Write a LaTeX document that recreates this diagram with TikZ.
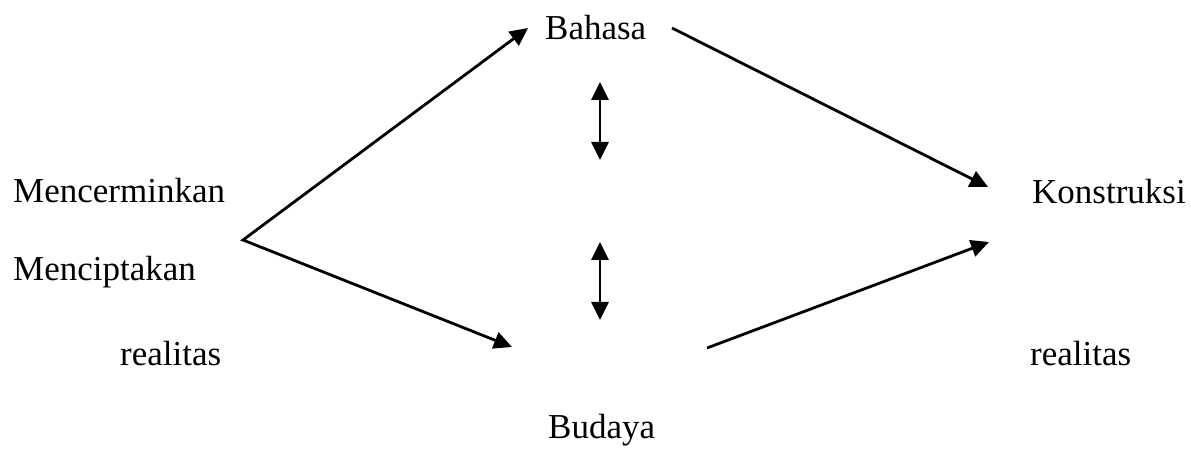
\documentclass[tikz,border=0pt]{standalone}
\usepackage{fontspec}
\setmainfont{Liberation Serif}
\usetikzlibrary{arrows.meta}
\begin{document}
\begin{tikzpicture}[x=1pt,y=-1pt,
  label/.style={inner sep=0pt,anchor=base west,font=\fontsize{35}{42}\selectfont},
  tip/.tip={Triangle[length=18pt,width=17pt]},
  link/.style={line width=2.8pt,-tip},
  both/.style={line width=2.8pt,tip-tip}]
\useasboundingbox (0,0) rectangle (1191,454);
% words
\node[label] (bahasa) at (545,40) {Bahasa};
\node[label] (cermin) at (13,203) {Mencerminkan};
\node[label] (cipta) at (13,280) {Menciptakan};
\node[label] (realL) at (120,365) {realitas};
\node[label] (konstruksi) at (1032,204) {Konstruksi};
\node[label] (realR) at (1030,365) {realitas};
\node[label] (budaya) at (548,438) {Budaya};
% arrow ends
\coordinate (v) at (243,240);
\coordinate (toBahasa) at (528,28);
\coordinate (toBudaya) at (512,347);
\coordinate (fromBahasa) at (672,28);
\coordinate (fromBudaya) at (707,348);
\coordinate (konA) at (988,187);
\coordinate (konB) at (989,242);
\coordinate (a1) at (600,82);
\coordinate (a2) at (600,160);
\coordinate (b1) at (600,242);
\coordinate (b2) at (600,320);
% connectors
\draw[both,line join=miter] (toBahasa) -- (v) -- (toBudaya);
\draw[link] (fromBahasa) -- (konA);
\draw[link] (fromBudaya) -- (konB);
\draw[both] (a1) -- (a2);
\draw[both] (b1) -- (b2);
\end{tikzpicture}
\end{document}
